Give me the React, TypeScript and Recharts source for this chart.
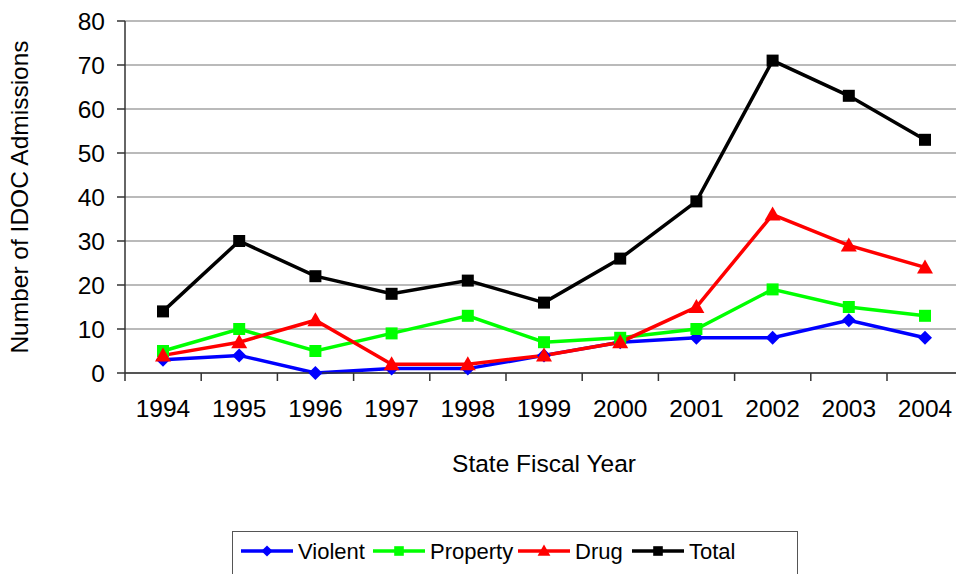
import { LineChart, Line, XAxis, YAxis, CartesianGrid, Legend } from "recharts";

const years = ["1994", "1995", "1996", "1997", "1998", "1999", "2000", "2001", "2002", "2003", "2004"];
const violent = [3, 4, 0, 1, 1, 4, 7, 8, 8, 12, 8];
const property = [5, 10, 5, 9, 13, 7, 8, 10, 19, 15, 13];
const drug = [4, 7, 12, 2, 2, 4, 7, 15, 36, 29, 24];
const total = [14, 30, 22, 18, 21, 16, 26, 39, 71, 63, 53];
const yTicks = [0, 10, 20, 30, 40, 50, 60, 70, 80];

const data = years.map((year, i) => ({
  year,
  Violent: violent[i],
  Property: property[i],
  Drug: drug[i],
  Total: total[i],
}));

const FONT = "'Liberation Sans', Arial, sans-serif";
const HALF_STEP = 38;

const series = [
  { key: "Violent", color: "#0000ff", shape: "diamond" },
  { key: "Property", color: "#00ff00", shape: "square" },
  { key: "Drug", color: "#ff0000", shape: "triangle" },
  { key: "Total", color: "#000000", shape: "square" },
];

function Marker({ cx, cy, shape, color, size = 1 }: any) {
  if (cx == null || cy == null) return null;
  if (shape === "diamond") {
    const r = 7 * size;
    return <polygon points={`${cx},${cy - r} ${cx + r},${cy} ${cx},${cy + r} ${cx - r},${cy}`} fill={color} />;
  }
  if (shape === "triangle") {
    const r = 8 * size;
    return <polygon points={`${cx},${cy - r} ${cx + r},${cy + r * 0.75} ${cx - r},${cy + r * 0.75}`} fill={color} />;
  }
  const h = 6 * size;
  return <rect x={cx - h} y={cy - h} width={h * 2} height={h * 2} fill={color} />;
}

// year label plus the tick mark on the boundary between categories
function YearTick({ x, y, payload }: any) {
  return (
    <g>
      <line x1={x - HALF_STEP} y1={y} x2={x - HALF_STEP} y2={y + 8} stroke="#333" strokeWidth={1.5} />
      <text x={x} y={y + 44} textAnchor="middle" fontSize={24.5} fontFamily={FONT} fill="#000">
        {payload.value}
      </text>
    </g>
  );
}

function LegendBox() {
  return (
    <div
      style={{
        position: "absolute",
        left: 232,
        top: 531,
        width: 566,
        height: 60,
        border: "1.5px solid #555",
        boxSizing: "border-box",
        background: "#fff",
      }}
    >
      <svg width={566} height={44}>
        {[
          { ...series[0], x: 8, label: "Violent" },
          { ...series[1], x: 140, label: "Property" },
          { ...series[2], x: 285, label: "Drug" },
          { ...series[3], x: 399, label: "Total" },
        ].map((s) => (
          <g key={s.key}>
            <line x1={s.x} y1={19} x2={s.x + 52} y2={19} stroke={s.color} strokeWidth={3.5} />
            <Marker cx={s.x + 26} cy={19} shape={s.shape} color={s.color} size={0.8} />
            <text x={s.x + 57} y={27} fontSize={22} fontFamily={FONT} fill="#000">
              {s.label}
            </text>
          </g>
        ))}
      </svg>
    </div>
  );
}

export default function App() {
  return (
    <div
      style={{
        position: "fixed",
        left: 0,
        top: 0,
        width: 956,
        height: 574,
        overflow: "hidden",
        background: "#fff",
      }}
    >
      <LineChart
        width={1000}
        height={574}
        data={data}
        margin={{ top: 21, right: 37, left: 0, bottom: 171 }}
      >
        <CartesianGrid vertical={false} stroke="#777" strokeWidth={1.2} />
        <XAxis
          dataKey="year"
          padding={{ left: HALF_STEP, right: HALF_STEP }}
          height={30}
          stroke="#333"
          strokeWidth={1.5}
          tickLine={false}
          tickSize={0}
          tickMargin={0}
          interval={0}
          tick={<YearTick />}
          label={{
            value: "State Fiscal Year",
            position: "insideBottom",
            offset: -69,
            fontSize: 24.5,
            fontFamily: FONT,
            fill: "#000",
          }}
        />
        <YAxis
          width={125}
          domain={[0, 80]}
          ticks={yTicks}
          interval={0}
          stroke="#333"
          strokeWidth={1.5}
          tickSize={8}
          tickMargin={12}
          tick={{ fontSize: 24.5, fontFamily: FONT, fill: "#000" }}
          label={{
            value: "Number of IDOC Admissions",
            angle: -90,
            position: "insideLeft",
            dx: 14,
            fontSize: 24.5,
            fontFamily: FONT,
            fill: "#000",
            style: { textAnchor: "middle" },
          }}
        />
        <Legend content={() => null} />
        {series.map((s) => (
          <Line
            key={s.key}
            dataKey={s.key}
            stroke={s.color}
            strokeWidth={3.5}
            isAnimationActive={false}
            dot={(p: any) => <Marker key={`${s.key}-${p.index}`} cx={p.cx} cy={p.cy} shape={s.shape} color={s.color} />}
            activeDot={false}
          />
        ))}
      </LineChart>
      <LegendBox />
    </div>
  );
}
